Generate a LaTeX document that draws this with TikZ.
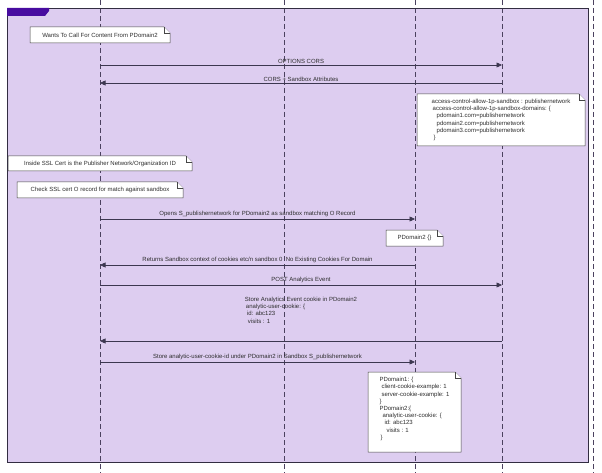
\documentclass[tikz,border=0pt]{standalone}
\usepackage{fontspec}
\setmainfont{Liberation Sans}
\usetikzlibrary{arrows.meta}
\definecolor{framefill}{RGB}{221,205,240}
\definecolor{framebd}{RGB}{50,45,65}
\definecolor{tabfill}{RGB}{72,12,160}
\definecolor{lifegray}{RGB}{75,65,95}
\definecolor{msggray}{RGB}{60,55,80}
\definecolor{textgray}{RGB}{45,45,45}
\newcommand{\msgfont}{\fontsize{6}{7.2}\selectfont}
% note with folded corner: name, x1, y1, x2, y2, text
\newcommand{\umlnote}[6]{%
  \filldraw[notebd] (#2,#3) -- (#4-6,#3) -- (#4,#3+6) -- (#4,#5) -- (#2,#5) -- cycle;
  \draw[notebd] (#4-6,#3) -- (#4-6,#3+6) -- (#4,#3+6);
  \node[notetext] (#1) at ({(#2+#4)/2},{(#3+#5)/2}) {#6};
}
\begin{document}
\begin{tikzpicture}[x=1pt, y=-1pt,
    lifeline/.style={lifegray, dash pattern=on 5pt off 3pt, line width=0.6pt},
    msg/.style={msggray, line width=0.6pt, -{Triangle[length=5.5pt,width=5pt]}},
    msglabel/.style={above, inner sep=1.5pt, font=\msgfont, text=textgray},
    notebd/.style={draw=gray!55!black, fill=white, line width=0.5pt},
    notetext/.style={align=left, inner sep=0pt, font=\msgfont, text=textgray}]
  \useasboundingbox (0,0) rectangle (602,473);
  % Frame background
  \fill[framefill] (7,8) rectangle (588,462);
  % Lifelines
  \foreach \n/\x in {a/100, b/284, c/415, d/502, e/593} {
    \coordinate (top\n) at (\x,0);
    \coordinate (bot\n) at (\x,473);
    \draw[lifeline] (top\n) -- (bot\n);
  }
  % Frame border and tab
  \draw[framebd, line width=0.9pt] (7,8) rectangle (588,462);
  \fill[tabfill] (7,8) -- (49,8) -- (49,11) -- (45,16) -- (7,16) -- cycle;
  % Message rows
  \foreach \r/\y in {1/65, 2/83, 3/219, 4/265, 5/285, 6/341, 7/362} {
    \coordinate (row\r) at (0,\y);
  }
  % Messages
  \draw[msg] (topa |- row1) -- (topd |- row1) node[msglabel, midway] (m1) {OPTIONS CORS};
  \draw[msg] (topd |- row2) -- (topa |- row2) node[msglabel, midway] (m2) {CORS + Sandbox Attributes};
  \draw[msg] (topa |- row3) -- (topc |- row3) node[msglabel, midway] (m3) {Opens S\_publishernetwork for PDomain2 as sandbox matching O Record};
  \draw[msg] (topc |- row4) -- (topa |- row4) node[msglabel, midway] (m4) {Returns Sandbox context of cookies etc/n sandbox 0 \ No Existing Cookies For Domain};
  \draw[msg] (topa |- row5) -- (topd |- row5) node[msglabel, midway] (m5) {POST Analytics Event};
  \draw[msg] (topd |- row6) -- (topa |- row6) node[msglabel, midway, above=16pt, align=left] (m6) {Store Analytics Event cookie in PDomain2\\
    \hspace*{1pt}analytic-user-cookie: \{\\
    \hspace*{2pt}id: abc123\\
    \hspace*{3pt}visits : 1};
  \draw[msg] (topa |- row7) -- (topc |- row7) node[msglabel, midway] (m7) {Store analytic-user-cookie-id under PDomain2 in Sandbox S\_publishernetwork};
  % Notes
  \umlnote{n1}{30}{27}{170}{43}{Wants To Call For Content From PDomain2}
  \umlnote{n2}{417}{94}{585}{146}{access-control-allow-1p-sandbox : publishernetwork\\
    \hspace*{1pt}access-control-allow-1p-sandbox-domains: \{\\
    \hspace*{5pt}pdomain1.com=publishernetwork\\
    \hspace*{5pt}pdomain2.com=publishernetwork\\
    \hspace*{5pt}pdomain3.com=publishernetwork\\
    \hspace*{2pt}\}}
  \umlnote{n3}{8}{156}{192}{171}{Inside SSL Cert is the Publisher Network/Organization ID}
  \umlnote{n4}{17}{182}{183}{198}{Check SSL cert O record for match against sandbox}
  \umlnote{n5}{386}{230}{443}{246}{PDomain2 \{\}}
  \umlnote{n6}{368}{372}{461}{452}{PDomain1: \{\\
    \hspace*{2pt}client-cookie-example: 1\\
    \hspace*{2pt}server-cookie-example: 1\\
    \}\\
    PDomain2:\{\\
    \hspace*{3pt}analytic-user-cookie: \{\\
    \hspace*{5pt}id: abc123\\
    \hspace*{7pt}visits : 1\\
    \hspace*{1pt}\}\\
    \mbox{}}
\end{tikzpicture}
\end{document}
